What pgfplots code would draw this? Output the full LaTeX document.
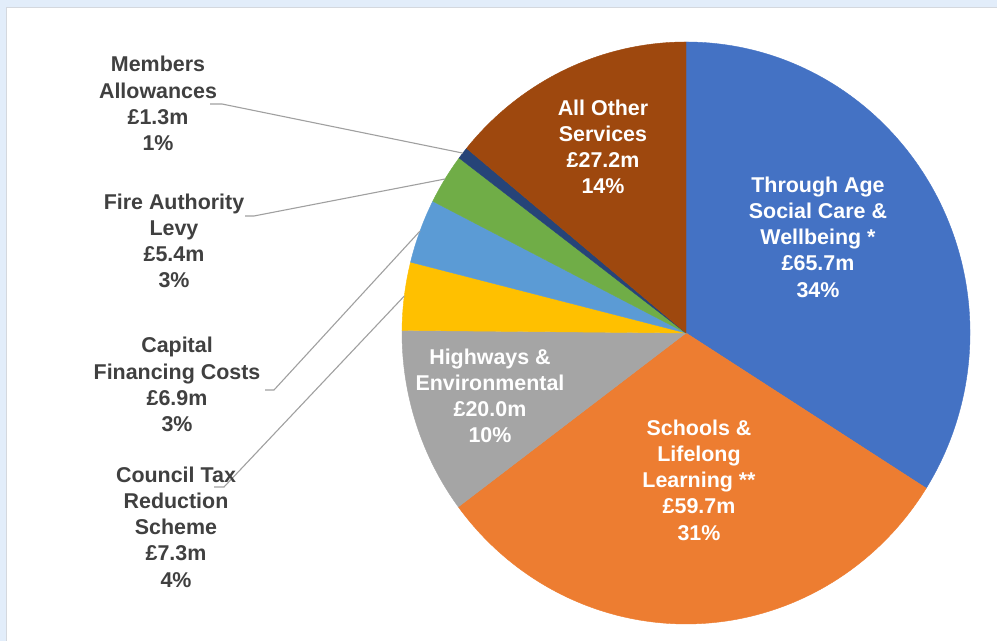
\documentclass[border=0pt]{standalone}
\usepackage{pgfplots}
\pgfplotsset{compat=1.18}
\usepackage{pgfplotstable}
\usepackage{fontspec}
\setmainfont{Liberation Sans}
\definecolor{sc0}{HTML}{4472C4}
\definecolor{sc1}{HTML}{ED7D31}
\definecolor{sc2}{HTML}{A5A5A5}
\definecolor{sc3}{HTML}{FFC000}
\definecolor{sc4}{HTML}{5B9BD5}
\definecolor{sc5}{HTML}{70AD47}
\definecolor{sc6}{HTML}{264478}
\definecolor{sc7}{HTML}{9E480E}
\definecolor{txt}{HTML}{404040}
\definecolor{lead}{HTML}{A0A0A0}
\definecolor{bgblue}{HTML}{E2EDFA}
\definecolor{framec}{HTML}{D4D8DE}

% value (GBP m), clockwise from 12 o'clock
\pgfplotstableread{
idx value
0 65.7
1 59.7
2 20.0
3 7.3
4 6.9
5 5.4
6 1.3
7 27.2
}\piedata

\begin{document}
\begin{tikzpicture}[x=1bp,y=1bp]
\useasboundingbox (0,0) rectangle (997,641);
\fill[bgblue] (-5,-5) rectangle (1002,646);
\fill[white] (6,-5) rectangle (1002,634);
\draw[framec,line width=1.2] (6.6,-5) -- (6.6,633.4) -- (1002,633.4);

\xdef\tot{0}
\foreach \i in {0,...,7}{%
  \pgfplotstablegetelem{\i}{value}\of\piedata
  \pgfmathsetmacro\tmpt{\tot+\pgfplotsretval}%
  \xdef\tot{\tmpt}}
\xdef\cum{0}
\foreach \i in {0,...,7}{%
  \pgfplotstablegetelem{\i}{value}\of\piedata
  \pgfmathsetmacro\tmpa{90-(\cum/\tot)*360}%
  \pgfmathsetmacro\tmpc{\cum+\pgfplotsretval}%
  \pgfmathsetmacro\tmpb{90-(\tmpc/\tot)*360}%
  \pgfmathsetmacro\tmpm{(\tmpa+\tmpb)/2}%
  \xdef\cum{\tmpc}%
  \expandafter\xdef\csname st\i\endcsname{\tmpa}%
  \expandafter\xdef\csname en\i\endcsname{\tmpb}%
  \expandafter\xdef\csname md\i\endcsname{\tmpm}%
}

\begin{axis}[at={(686bp,308bp)},anchor=center,width=568bp,height=582bp,
  scale only axis,hide axis,xmin=-1,xmax=1,ymin=-1,ymax=1,clip=false]
\pgfplotsinvokeforeach{0,...,7}{
  \fill[sc#1,draw=sc#1,line width=0.4bp] (axis cs:0,0) --
    (axis cs:{cos(\csname st#1\endcsname)},{sin(\csname st#1\endcsname)})
    arc[start angle=\csname st#1\endcsname, end angle=\csname en#1\endcsname,
        x radius=1, y radius=1] -- cycle;
  \coordinate (m#1) at (axis cs:{cos(\csname md#1\endcsname)},{sin(\csname md#1\endcsname)});
}
\end{axis}

\draw[lead,line width=1.1] (210,537) -- (222,537) -- (m6);
\draw[lead,line width=1.1] (245,425) -- (254,425) -- (m5);
\draw[lead,line width=1.1] (265,251) -- (274,251) -- (m4);
\draw[lead,line width=1.1] (214,154) -- (224,154) -- (m3);

\tikzset{lbl/.style={align=center,font=\fontsize{21.5}{26.3}\selectfont\bfseries,inner sep=0pt}}
\node[lbl,text=white] at (603,494) {All Other\\Services\\£27.2m\\14\%};
\node[lbl,text=white] at (818,404) {Through Age\\Social Care \&\\Wellbeing *\\£65.7m\\34\%};
\node[lbl,text=white] at (699,161) {Schools \&\\Lifelong\\Learning **\\£59.7m\\31\%};
\node[lbl,text=white] at (490,245) {Highways \&\\Environmental\\£20.0m\\10\%};
\node[lbl,text=txt] at (158,537.5) {Members\\Allowances\\£1.3m\\1\%};
\node[lbl,text=txt] at (174,400) {Fire Authority\\Levy\\£5.4m\\3\%};
\node[lbl,text=txt] at (177,256.5) {Capital\\Financing Costs\\£6.9m\\3\%};
\node[lbl,text=txt] at (176,114) {Council Tax\\Reduction\\Scheme\\£7.3m\\4\%};
\end{tikzpicture}
\end{document}
